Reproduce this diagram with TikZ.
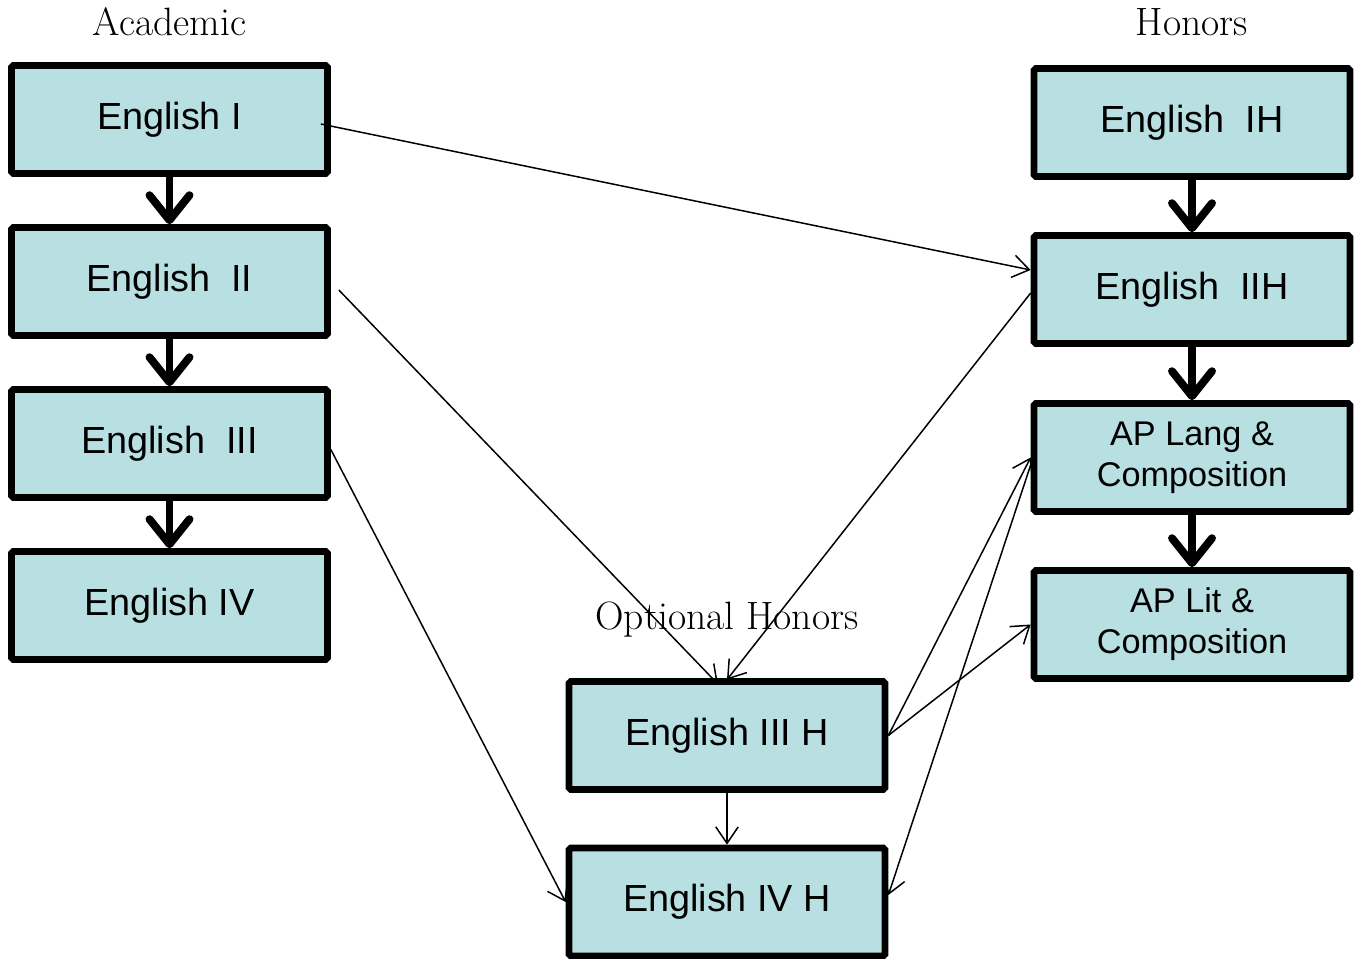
\documentclass[tikz,border=0pt]{standalone}
\usepackage{fontspec}
\newfontfamily\boxfont{Liberation Sans}
\usetikzlibrary{arrows.meta}
\definecolor{boxfill}{HTML}{B8DFE2}

\tikzstyle{course} = [rectangle, draw, line width=3.8pt, fill=boxfill, rounded corners=1pt,
minimum width=6.32cm, minimum height=2.16cm, align=center, font=\boxfont\fontsize{21.5}{23.5}\selectfont]
\tikzstyle{apcourse} = [course, font=\boxfont\fontsize{19.5}{23.3}\selectfont]
\tikzstyle{heading} = [font=\fontsize{22.5}{26}\selectfont]
\tikzstyle{bigarrow} = [line width=4.5pt, -{Straight Barb[length=0.5cm, width=0.8cm, round]}, draw]
\tikzstyle{arrow} = [line width=0.85pt, -{Straight Barb[length=0.33cm, width=0.45cm]}, draw]

\begin{document}
\begin{tikzpicture}[node distance = 3.24cm]
	\useasboundingbox (0,0) rectangle (27.1,-19.16);
	%nodes for Academic
	\node[course] (EI) at (3.39,-2.39) {English I};
	\node[course, below of=EI] (EII) {English\ \ II};
	\node[course, below of=EII] (EIII) {English\ \ III};
	\node[course, below of=EIII] (EIV) {English IV};
	\node[heading, above of=EI, node distance=1.95cm] (acad) {Academic};
	%nodes for Honors
	\node[course] (EIH) at (23.84,-2.45) {English\ \ IH};
	\node[course, below of=EIH, node distance=3.34cm] (EIIH) {English\ \ IIH};
	\node[apcourse, below of=EIIH, node distance=3.36cm] (APLang) {AP Lang \&\\Composition};
	\node[apcourse, below of=APLang, node distance=3.34cm] (APLit) {AP Lit \&\\Composition};
	\node[heading, above of=EIH, node distance=2.01cm] (hon) {Honors};
	%nodes for Optional Honors
	\node[course] (EIIIH) at (14.54,-14.71) {English III H};
	\node[course, below of=EIIIH, node distance=3.33cm] (EIVH) {English IV H};
	\node[heading, above of=EIIIH, node distance=2.31cm] (opt) {Optional Honors};

	%edges
	\path[bigarrow] (EI) -- (EII);
	\path[bigarrow] (EII) -- (EIII);
	\path[bigarrow] (EIII) -- (EIV);
	\path[bigarrow] (EIH) -- (EIIH);
	\path[bigarrow] (EIIH) -- (APLang);
	\path[bigarrow] (APLang) -- (APLit);
	\path[arrow] ([xshift=-0.2cm,yshift=-0.09cm]EI.east) -- ([yshift=0.39cm]EIIH.west);
	\path[arrow] ([xshift=0.16cm,yshift=-0.17cm]EII.east) -- ([xshift=-0.18cm,yshift=-0.12cm]EIIIH.north);
	\path[arrow] ([yshift=-0.07cm]EIIH.west) -- ([yshift=-0.03cm]EIIIH.north);
	\path[arrow] ([yshift=-0.12cm]EIII.east) -- (EIVH.west);
	\path[arrow] (EIIIH.east) -- (APLang.west);
	\path[arrow] (EIIIH.east) -- (APLit.west);
	\path[arrow] ([yshift=-0.15cm]APLang.west) -- ([yshift=0.14cm]EIVH.east);
	\path[arrow] (EIIIH) -- (EIVH);
\end{tikzpicture}
\end{document}
